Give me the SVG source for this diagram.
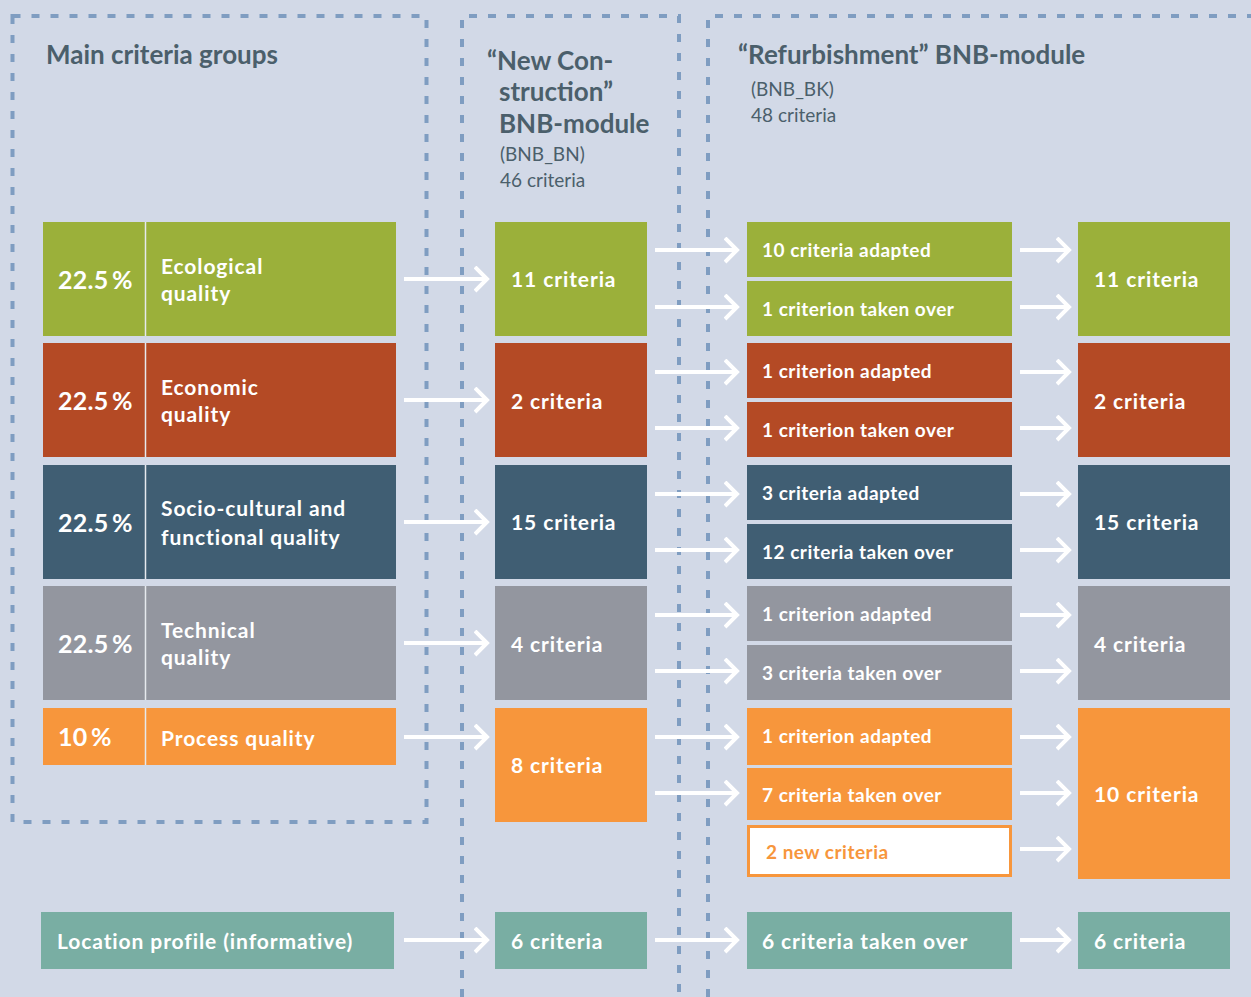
<svg xmlns="http://www.w3.org/2000/svg" width="1251" height="997" viewBox="0 0 1251 997">
<defs>
<marker id="ah" markerUnits="userSpaceOnUse" markerWidth="20" markerHeight="30" refX="13" refY="13" orient="auto" viewBox="0 0 20 30">
<path d="M1,1 L13,13 L1,25" fill="none" stroke="#ffffff" stroke-width="4"/>
</marker>
<style>
.bg{fill:#d2d9e7}
.dash{fill:none;stroke:#7f9dc1;stroke-width:4;stroke-dasharray:8 11}
.arr{stroke:#ffffff;stroke-width:4;fill:none;marker-end:url(#ah)}
.t{font-family:Lato,"Noto Sans","Liberation Sans",sans-serif;font-weight:700;fill:#ffffff}
.h{font-family:Lato,"Noto Sans","Liberation Sans",sans-serif;font-weight:700;fill:#4b5f6b;font-size:26px}
.s{font-family:Lato,"Noto Sans","Liberation Sans",sans-serif;font-weight:400;fill:#4b5f6b;font-size:19px}
.pct{font-size:25px;letter-spacing:0.3px;word-spacing:-3px}
.lbl{font-size:21px;letter-spacing:0.9px}
.sub{font-size:19px;letter-spacing:0.5px}
.g{fill:#9bb03a}.r{fill:#b44a25}.b{fill:#405e73}.y{fill:#93969f}.o{fill:#f7963c}.c{fill:#79aea3}
.div{stroke:#e6e9ee;stroke-width:1.5}
</style>
</defs>
<rect class="bg" x="0" y="0" width="1251" height="997"/>

<g id="frames">
<rect class="dash" x="12.5" y="16" width="414" height="806"/>
<path class="dash" d="M462,997 V16 H679 V997"/>
<path class="dash" d="M708,997 V16 H1251"/>
</g>

<g id="headings">
<text class="h" x="46" y="64">Main criteria groups</text>
<text class="h" x="487" y="70">“New Con-</text>
<text class="h" x="499" y="101">struction”</text>
<text class="h" x="499" y="133">BNB-module</text>
<text class="s" x="500" y="161">(BNB_BN)</text>
<text class="s" x="500" y="187">46 criteria</text>
<text class="h" x="738" y="64">“Refurbishment” BNB-module</text>
<text class="s" x="751" y="96">(BNB_BK)</text>
<text class="s" x="751" y="122">48 criteria</text>
</g>

<g id="group-ecological">
<rect class="g" x="43" y="222" width="353" height="114"/>
<line class="div" x1="145.5" y1="222" x2="145.5" y2="336"/>
<text class="t pct" x="58" y="289">22.5 %</text>
<text class="t lbl" x="161" y="274">Ecological</text>
<text class="t lbl" x="161" y="301">quality</text>
</g>
<g id="group-economic">
<rect class="r" x="43" y="343" width="353" height="114"/>
<line class="div" x1="145.5" y1="343" x2="145.5" y2="457"/>
<text class="t pct" x="58" y="410">22.5 %</text>
<text class="t lbl" x="161" y="395">Economic</text>
<text class="t lbl" x="161" y="422">quality</text>
</g>
<g id="group-socio">
<rect class="b" x="43" y="465" width="353" height="114"/>
<line class="div" x1="145.5" y1="465" x2="145.5" y2="579"/>
<text class="t pct" x="58" y="532">22.5 %</text>
<text class="t lbl" x="161" y="516">Socio-cultural and</text>
<text class="t lbl" x="161" y="545">functional quality</text>
</g>
<g id="group-technical">
<rect class="y" x="43" y="586" width="353" height="114"/>
<line class="div" x1="145.5" y1="586" x2="145.5" y2="700"/>
<text class="t pct" x="58" y="653">22.5 %</text>
<text class="t lbl" x="161" y="638">Technical</text>
<text class="t lbl" x="161" y="665">quality</text>
</g>
<g id="group-process">
<rect class="o" x="43" y="708" width="353" height="57"/>
<line class="div" x1="145.5" y1="708" x2="145.5" y2="765"/>
<text class="t pct" x="58" y="746">10 %</text>
<text class="t lbl" x="161" y="746">Process quality</text>
</g>
<g id="group-location">
<rect class="c" x="41" y="912" width="353" height="57"/>
<text class="t lbl" x="57" y="949">Location profile (informative)</text>
</g>

<g id="bn-ecological"><rect class="g" x="495" y="222" width="152" height="114"/><text class="t lbl" x="511" y="287">11 criteria</text></g>
<g id="bn-economic"><rect class="r" x="495" y="343" width="152" height="114"/><text class="t lbl" x="511" y="409">2 criteria</text></g>
<g id="bn-socio"><rect class="b" x="495" y="465" width="152" height="114"/><text class="t lbl" x="511" y="530">15 criteria</text></g>
<g id="bn-technical"><rect class="y" x="495" y="586" width="152" height="114"/><text class="t lbl" x="511" y="652">4 criteria</text></g>
<g id="bn-process"><rect class="o" x="495" y="708" width="152" height="114"/><text class="t lbl" x="511" y="773">8 criteria</text></g>
<g id="bn-location"><rect class="c" x="495" y="912" width="152" height="57"/><text class="t lbl" x="511" y="949">6 criteria</text></g>

<g id="bk-eco-adapted"><rect class="g" x="747" y="222" width="265" height="55"/><text class="t sub" x="762" y="257">10 criteria adapted</text></g>
<g id="bk-eco-taken"><rect class="g" x="747" y="281" width="265" height="55"/><text class="t sub" x="762" y="316">1 criterion taken over</text></g>
<g id="bk-econ-adapted"><rect class="r" x="747" y="343" width="265" height="55"/><text class="t sub" x="762" y="378">1 criterion adapted</text></g>
<g id="bk-econ-taken"><rect class="r" x="747" y="402" width="265" height="55"/><text class="t sub" x="762" y="437">1 criterion taken over</text></g>
<g id="bk-socio-adapted"><rect class="b" x="747" y="465" width="265" height="55"/><text class="t sub" x="762" y="500">3 criteria adapted</text></g>
<g id="bk-socio-taken"><rect class="b" x="747" y="524" width="265" height="55"/><text class="t sub" x="762" y="559">12 criteria taken over</text></g>
<g id="bk-tech-adapted"><rect class="y" x="747" y="586" width="265" height="55"/><text class="t sub" x="762" y="621">1 criterion adapted</text></g>
<g id="bk-tech-taken"><rect class="y" x="747" y="645" width="265" height="55"/><text class="t sub" x="762" y="680">3 criteria taken over</text></g>
<g id="bk-proc-adapted"><rect class="o" x="747" y="708" width="265" height="57"/><text class="t sub" x="762" y="743">1 criterion adapted</text></g>
<g id="bk-proc-taken"><rect class="o" x="747" y="768" width="265" height="52"/><text class="t sub" x="762" y="802">7 criteria taken over</text></g>
<g id="bk-proc-new"><rect x="748.5" y="826.5" width="262" height="49" fill="#ffffff" stroke="#f7963c" stroke-width="3"/><text class="t sub" x="766" y="859" style="fill:#f7963c">2 new criteria</text></g>
<g id="bk-location"><rect class="c" x="747" y="912" width="265" height="57"/><text class="t lbl" x="762" y="949">6 criteria taken over</text></g>

<g id="res-ecological"><rect class="g" x="1078" y="222" width="152" height="114"/><text class="t lbl" x="1094" y="287">11 criteria</text></g>
<g id="res-economic"><rect class="r" x="1078" y="343" width="152" height="114"/><text class="t lbl" x="1094" y="409">2 criteria</text></g>
<g id="res-socio"><rect class="b" x="1078" y="465" width="152" height="114"/><text class="t lbl" x="1094" y="530">15 criteria</text></g>
<g id="res-technical"><rect class="y" x="1078" y="586" width="152" height="114"/><text class="t lbl" x="1094" y="652">4 criteria</text></g>
<g id="res-process"><rect class="o" x="1078" y="708" width="152" height="171"/><text class="t lbl" x="1094" y="802">10 criteria</text></g>
<g id="res-location"><rect class="c" x="1078" y="912" width="152" height="57"/><text class="t lbl" x="1094" y="949">6 criteria</text></g>

<g id="connectors">
<path class="arr" d="M404,279 H487"/>
<path class="arr" d="M404,400 H487"/>
<path class="arr" d="M404,522 H487"/>
<path class="arr" d="M404,643 H487"/>
<path class="arr" d="M404,737 H487"/>
<path class="arr" d="M404,940 H487"/>

<path class="arr" d="M655,250 H737"/>
<path class="arr" d="M655,307 H737"/>
<path class="arr" d="M655,372 H737"/>
<path class="arr" d="M655,428 H737"/>
<path class="arr" d="M655,494 H737"/>
<path class="arr" d="M655,550 H737"/>
<path class="arr" d="M655,615 H737"/>
<path class="arr" d="M655,671 H737"/>
<path class="arr" d="M655,737 H737"/>
<path class="arr" d="M655,793 H737"/>
<path class="arr" d="M655,940 H737"/>

<path class="arr" d="M1020,250 H1069"/>
<path class="arr" d="M1020,307 H1069"/>
<path class="arr" d="M1020,372 H1069"/>
<path class="arr" d="M1020,428 H1069"/>
<path class="arr" d="M1020,494 H1069"/>
<path class="arr" d="M1020,550 H1069"/>
<path class="arr" d="M1020,615 H1069"/>
<path class="arr" d="M1020,671 H1069"/>
<path class="arr" d="M1020,737 H1069"/>
<path class="arr" d="M1020,793 H1069"/>
<path class="arr" d="M1020,849 H1069"/>
<path class="arr" d="M1020,940 H1069"/>
</g>
</svg>
